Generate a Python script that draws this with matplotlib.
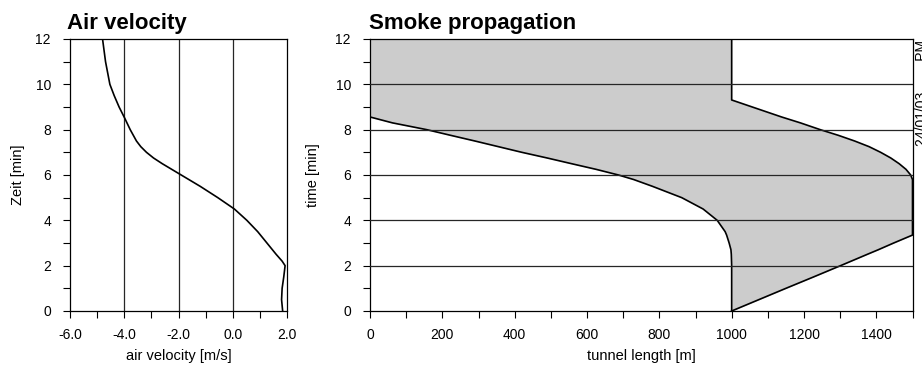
import numpy as np
import matplotlib.pyplot as plt
from matplotlib.ticker import MultipleLocator, StrMethodFormatter

plt.rcParams["font.family"] = ["Liberation Sans", "DejaVu Sans"]
plt.rcParams["axes.unicode_minus"] = False

# Air velocity (time in min, velocity in m/s)
air_t = [0, 0.5, 1.0, 1.5, 2.0, 2.2, 2.5, 3.0, 3.5, 4.0, 4.5, 5.0, 5.5, 6.0,
         6.5, 6.75, 7.0, 7.25, 7.5, 8.0, 8.5, 9.0, 9.5, 10.0, 11.0, 12.0]
air_v = [1.84, 1.80, 1.82, 1.88, 1.93, 1.82, 1.60, 1.26, 0.92, 0.52, 0.06, -0.55,
         -1.20, -1.90, -2.60, -2.92, -3.18, -3.39, -3.55, -3.78, -3.98, -4.19,
         -4.37, -4.53, -4.69, -4.80]

# Smoke propagation: upstream and downstream front (tunnel length in m)
smoke_t = [0, 0.5, 1.0, 1.5, 2.0, 2.5, 2.7, 3.0, 3.35, 3.5, 4.0, 4.5, 5.0, 5.5,
           5.8, 6.0, 6.25, 6.5, 6.75, 7.0, 7.25, 7.5, 7.75, 8.0, 8.3, 8.56, 9.0,
           9.31, 10.0, 11.0, 12.0]
smoke_left = [1000, 1000, 1000, 1000, 1000, 999, 998, 993, 986, 982, 960, 921,
              862, 781, 729, 687, 625, 557, 490, 420, 355, 290, 223, 157, 62, 0,
              0, 0, 0, 0, 0]
smoke_right = [1000, 1075, 1150, 1226, 1301, 1375, 1405, 1448, 1500, 1500, 1500,
               1500, 1500, 1500, 1500, 1495, 1482, 1463, 1440, 1412, 1380, 1340,
               1295, 1245, 1190, 1138, 1057, 1000, 1000, 1000, 1000]

fig = plt.figure(figsize=(9.22, 3.71), dpi=100)
ax1 = fig.add_axes([70 / 922, 60 / 371, 217 / 922, 272 / 371])
ax2 = fig.add_axes([370 / 922, 60 / 371, 542.5 / 922, 272 / 371])

# left panel
ax1.plot(air_v, air_t, color="black", lw=1.2)
for xv in [-4, -2, 0]:
    ax1.axvline(xv, color="0.15", lw=0.9, zorder=0)
ax1.set_xlim(-6, 2)
ax1.set_ylim(0, 12)
ax1.xaxis.set_major_locator(MultipleLocator(2))
ax1.xaxis.set_minor_locator(MultipleLocator(1))
ax1.xaxis.set_major_formatter(StrMethodFormatter("{x:.1f}"))
ax1.set_xlabel("air velocity [m/s]", fontsize=10.5)
ax1.set_ylabel("Zeit [min]", fontsize=10.5)
ax1.yaxis.set_label_coords(-0.207, 0.5)
ax1.xaxis.set_label_coords(0.5, -0.14)

# right panel
ax2.fill_betweenx(smoke_t, smoke_left, smoke_right, color="#cccccc", lw=0)
ax2.plot(smoke_left, smoke_t, color="black", lw=1.2)
ax2.plot(smoke_right, smoke_t, color="black", lw=1.2)
for yv in [2, 4, 6, 8, 10]:
    ax2.axhline(yv, color="0.15", lw=0.9, zorder=3)
ax2.set_xlim(0, 1500)
ax2.set_ylim(0, 12)
ax2.xaxis.set_major_locator(MultipleLocator(200))
ax2.xaxis.set_minor_locator(MultipleLocator(100))
ax2.set_xlabel("tunnel length [m]", fontsize=10.5)
ax2.set_ylabel("time [min]", fontsize=10.5)
ax2.yaxis.set_label_coords(-0.092, 0.5)
ax2.xaxis.set_label_coords(0.5, -0.14)

for ax in (ax1, ax2):
    ax.yaxis.set_major_locator(MultipleLocator(2))
    ax.yaxis.set_minor_locator(MultipleLocator(1))
    ax.tick_params(which="both", direction="out", length=4.7, width=0.8,
                   labelsize=10, color="black")
    ax.tick_params(axis="x", pad=7.5)
    ax.tick_params(axis="y", pad=9)
    for s in ax.spines.values():
        s.set_linewidth(0.9)

fig.text(67 / 922, 1 - 29 / 371, "Air velocity", fontsize=16, fontweight="bold",
         va="baseline", ha="left")
fig.text(369 / 922, 1 - 29 / 371, "Smoke propagation", fontsize=16,
         fontweight="bold", va="baseline", ha="left")
# date stamp, partly cut by the right edge as in the original
fig.text(915 / 922, 1 - 40 / 371, "24/01/03        PM", fontsize=10,
         rotation=90, ha="left", va="top")

fig.savefig("out.png", dpi=100)
